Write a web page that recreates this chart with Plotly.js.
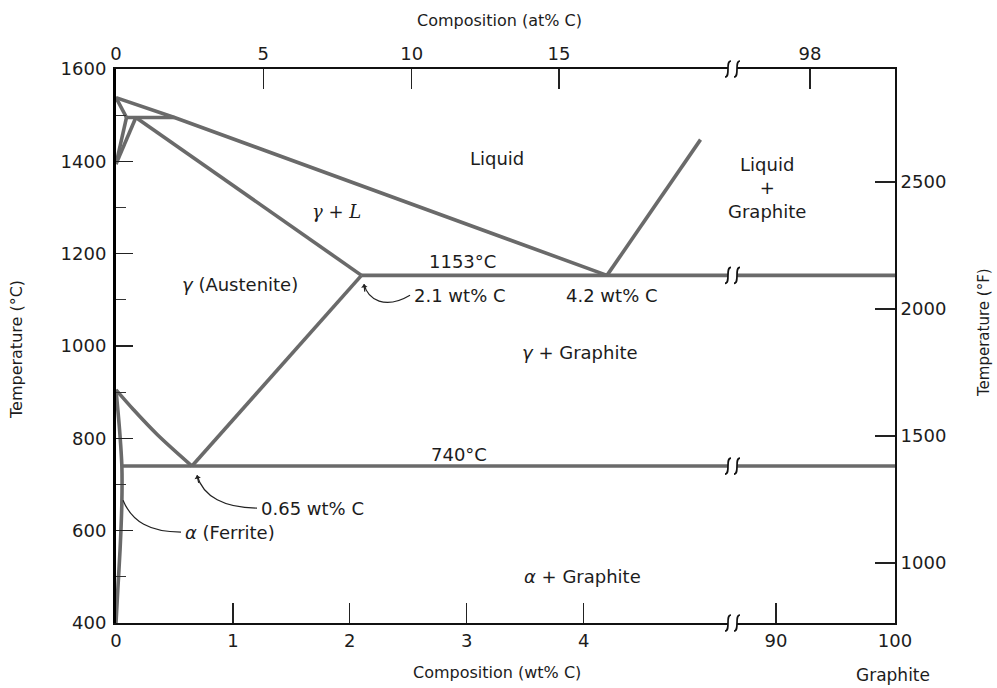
<!DOCTYPE html>
<html><head><meta charset="utf-8">
<script src="https://cdn.plot.ly/plotly-3.0.1.min.js"></script>
<style>html,body{margin:0;padding:0;background:#fff}#chart{width:997px;height:688px}</style>
</head><body><div id="chart"></div>
<script>
// ---- axis break (wt% C): first panel ends, second panel starts
const brkLow = 5.235, brkHigh = 86.72;

// ---- phase boundaries (wt% C, °C)
const liquidusX = [0, 0.5, 4.2],            liquidusT = [1538, 1495, 1153];
const peritecticX = [0.09, 0.5],             peritecticT = [1495, 1495];
const deltaSolidusX = [0, 0.09],             deltaSolidusT = [1538, 1495];
const deltaBoundX = [0.09, 0],               deltaBoundT = [1495, 1394];
const gammaDeltaX = [0.17, 0],               gammaDeltaT = [1495, 1394];
const solidusX = [0.17, 2.1],                solidusT = [1495, 1153];
const eutecticX1 = [2.1, brkLow],            eutecticT1 = [1153, 1153];
const eutecticX2 = [brkHigh, 100],           eutecticT2 = [1153, 1153];
const graphiteLiqX = [4.2, 5.0],             graphiteLiqT = [1153, 1447];
const a3X = [0, 0.15, 0.35, 0.65],           a3T = [905, 862, 809, 740];
const acmX = [0.65, 2.1],                    acmT = [740, 1153];
const eutectoidX1 = [0.05, brkLow],          eutectoidT1 = [740, 740];
const eutectoidX2 = [brkHigh, 100],          eutectoidT2 = [740, 740];
const alphaX = [0, 0.03, 0.05, 0.05, 0.035, 0.015, 0];
const alphaT = [905, 820, 740, 660, 560, 470, 400];

// ---- tick labels
const wtTicks1 = [0, 1, 2, 3, 4];
const wtTicks2 = [90, 100];
const atTickPos1 = [0, 1.26, 2.53, 3.79], atTickText1 = ['0', '5', '10', '15'];
const atTickPos2 = [92.86], atTickText2 = ['98'];
const fTicks = [1000, 1500, 2000, 2500];
const fRange = [764, 2945];

// ---- leader curves (cubic: start, c1, c2, tip) in wt% C, °C
const lead065X = [1.206, 0.932, 0.744, 0.693], lead065T = [649, 649, 673, 720];
const lead21X  = [2.515, 2.301, 2.156, 2.121], lead21T  = [1110, 1078, 1100, 1134];
const leadAX   = [0.06, 0.137, 0.291, 0.556],  leadAT   = [666, 619, 597, 597];

const toF = function (c) { return c * 1.8 + 32; };

const LC = '#6a6a6a', LW = 3.6;
function seg(x, y, axis, yax, color) {
  return {x: x, y: y, xaxis: axis, yaxis: yax || 'y', mode: 'lines', hoverinfo: 'skip',
          showlegend: false, line: {color: color || LC, width: LW}};
}
function curve(x, y, sm) {
  return Object.assign(seg(x, y, 'x'), {line: {color: LC, width: LW, shape: 'spline', smoothing: sm}});
}
const data = [
  seg(liquidusX, liquidusT, 'x3'), seg(peritecticX, peritecticT, 'x'),
  seg(deltaSolidusX, deltaSolidusT, 'x'), seg(deltaBoundX, deltaBoundT, 'x'),
  seg(gammaDeltaX, gammaDeltaT, 'x'), seg(solidusX, solidusT, 'x'),
  seg(eutecticX1, eutecticT1, 'x'), seg(eutecticX2, eutecticT2, 'x4'),
  seg(graphiteLiqX, graphiteLiqT, 'x'), curve(a3X, a3T, 1),
  seg(acmX, acmT, 'x'), seg(eutectoidX1, eutectoidT1, 'x'), seg(eutectoidX2, eutectoidT2, 'x2'),
  curve(alphaX, alphaT, 0.7),
  // invisible carrier so the °F axis is drawn
  seg(eutecticX2, eutecticT2.map(toF), 'x2', 'y2', 'rgba(0,0,0,0)')
];

function cubic(xs, ys) {
  return {type: 'path', xref: 'x', yref: 'y', line: {color: '#222', width: 1.2},
    path: 'M ' + xs[0] + ',' + ys[0] + ' C ' + xs[1] + ',' + ys[1] + ' ' + xs[2] + ',' + ys[2] + ' ' + xs[3] + ',' + ys[3]};
}
const brkX = (732.5 - 116) / 779;
function brk(yv, yref) {
  const out = [];
  [-4.5, 4.5].forEach(function (d) {
    out.push({type: 'path', xref: 'paper', yref: yref || 'y', xsizemode: 'pixel', ysizemode: 'pixel',
      xanchor: brkX, yanchor: yv, line: {color: '#111', width: 1.7},
      path: 'M ' + (d + 3) + ',8 C ' + (d - 3) + ',8 ' + (d + 3) + ',-8 ' + (d - 3) + ',-8'});
  });
  return out;
}
const shapes = [cubic(lead065X, lead065T), cubic(lead21X, lead21T), cubic(leadAX, leadAT)]
  .concat(brk(0, 'paper'), brk(1, 'paper'), brk(1153), brk(740));

const F = 'DejaVu Sans', TC = '#1c1c1c', LS = 18;
function lab(text, x, y, axis, xa, extra) {
  return Object.assign({text: text, x: x, y: y, xref: axis, yref: 'y', showarrow: false,
    xanchor: xa || 'center', yanchor: 'middle', font: {family: F, size: LS, color: TC}}, extra || {});
}
function pap(text, px, py, extra) {
  return Object.assign({text: text, x: (px - 116) / 779, y: (623 - py) / 554, xref: 'paper', yref: 'paper',
    showarrow: false, xanchor: 'center', yanchor: 'middle', font: {family: F, size: 16, color: TC}}, extra || {});
}
const annotations = [
  lab('Liquid', 3.26, 1407, 'x'),
  lab('Liquid<br>+<br>Graphite', 89.24, 1342, 'x2'),
  lab('<i>γ</i> + <i>L</i>', 1.89, 1292, 'x', 'center', {font: {family: 'DejaVu Serif', size: LS, color: TC}}),
  lab('1153°C', 2.96, 1182, 'x'),
  lab('4.2 wt% C', 4.24, 1110, 'x'),
  lab('<i>γ</i> (Austenite)', 1.06, 1134, 'x'),
  lab('2.1 wt% C', 2.53, 1110, 'x', 'left'),
  lab('<i>γ</i> + Graphite', 3.97, 987, 'x'),
  lab('740°C', 2.93, 764, 'x'),
  lab('0.65 wt% C', 1.223, 649, 'x', 'left'),
  lab('<i>α</i> (Ferrite)', 0.573, 596, 'x', 'left'),
  lab('<i>α</i> + Graphite', 3.99, 500, 'x'),
  {x: lead065X[3], y: lead065T[3], xref: 'x', yref: 'y', text: '', showarrow: true,
   ax: 2, ay: 9, arrowhead: 1, arrowsize: 0.9, arrowwidth: 1.2, arrowcolor: '#222'},
  {x: lead21X[3], y: lead21T[3], xref: 'x', yref: 'y', text: '', showarrow: true,
   ax: 1, ay: 9, arrowhead: 1, arrowsize: 0.9, arrowwidth: 1.2, arrowcolor: '#222'},
  pap('Composition (at% C)', 499, 20),
  pap('Composition (wt% C)', 497, 672),
  pap('Graphite', 893, 675, {font: {family: F, size: 17, color: TC}}),
  pap('Temperature (°C)', 16, 350, {textangle: -90, font: {family: F, size: 16, color: TC}}),
  pap('Temperature (°F)', 984, 333, {textangle: -90, font: {family: F, size: 15, color: TC}})
];

const d1 = [0, (728 - 116) / 779], d2 = [(737 - 116) / 779, 1];
const tf = {family: F, size: 18, color: TC};
const xCommon = {showgrid: false, zeroline: false, showline: true, linecolor: '#111', linewidth: 2,
  ticks: 'inside', ticklen: 20, tickwidth: 1.2, tickcolor: '#222', tickfont: tf, tickmode: 'array', fixedrange: true};
const layout = {
  width: 997, height: 688, paper_bgcolor: '#fff', plot_bgcolor: 'rgba(0,0,0,0)',
  margin: {l: 116, r: 102, t: 69, b: 65}, showlegend: false, hovermode: false,
  xaxis: Object.assign({}, xCommon, {domain: d1, range: [0, brkLow], tickvals: wtTicks1, anchor: 'y'}),
  xaxis2: Object.assign({}, xCommon, {domain: d2, range: [brkHigh, 100], tickvals: wtTicks2, anchor: 'y'}),
  xaxis3: Object.assign({}, xCommon, {overlaying: 'x', side: 'top', anchor: 'y', range: [0, brkLow],
    tickvals: atTickPos1, ticktext: atTickText1}),
  xaxis4: Object.assign({}, xCommon, {overlaying: 'x2', side: 'top', anchor: 'y', range: [brkHigh, 100],
    tickvals: atTickPos2, ticktext: atTickText2}),
  yaxis: {domain: [0, 1], range: [400, 1600], dtick: 200, tick0: 400, showgrid: false, zeroline: false,
    showline: true, linecolor: '#000', linewidth: 3, ticks: 'inside', ticklen: 17, tickwidth: 1.2,
    tickcolor: '#222', tickfont: tf, anchor: 'x', ticklabelstandoff: 3, fixedrange: true,
    minor: {dtick: 100, tick0: 400, ticks: 'inside', ticklen: 10, tickwidth: 1, tickcolor: '#333', showgrid: false}},
  yaxis2: {overlaying: 'y', side: 'right', anchor: 'x2', range: fRange, tickmode: 'array', tickvals: fTicks,
    showgrid: false, zeroline: false, showline: true, linecolor: '#111', linewidth: 2,
    ticks: 'inside', ticklen: 20, tickwidth: 1.2, tickcolor: '#222', tickfont: tf, fixedrange: true},
  shapes: shapes,
  annotations: annotations
};
Plotly.newPlot('chart', data, layout, {staticPlot: true, displayModeBar: false});
</script>
</body></html>
